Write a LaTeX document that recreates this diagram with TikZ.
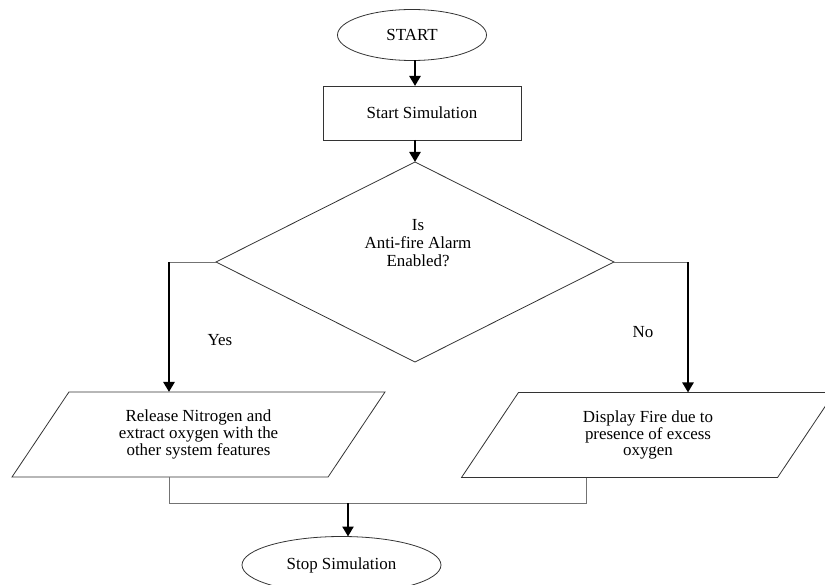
\documentclass[tikz,border=0pt]{standalone}
\usepackage{fontspec}
\setmainfont{Liberation Serif}
\usepackage{tikz}
\usetikzlibrary{arrows.meta, shapes.geometric}
\tikzset{
  basenode/.style={draw=black!80,line width=0.8bp,font=\fontsize{17}{17}\selectfont,align=center,inner sep=1pt,outer sep=0pt},
  termnode/.style={basenode,ellipse},
  procnode/.style={basenode,rectangle,minimum width=198bp,minimum height=54bp},
  decnode/.style={basenode,diamond,minimum width=398bp,minimum height=200bp},
  ionode/.style={basenode,trapezium,trapezium left angle=42,trapezium right angle=138,trapezium stretches body,minimum width=373bp,minimum height=85bp},
  txtnode/.style={font=\fontsize{17}{18}\selectfont,align=center,inner sep=0pt},
  flowarr/.style={-{Triangle[width=11bp,length=10bp]},line width=2.6bp,black},
  thinline/.style={line width=1bp,black!55},
}
\begin{document}
\begin{tikzpicture}[x=1bp,y=-1bp]
  \useasboundingbox (0,0) rectangle (825,585);
  \clip (0,0) rectangle (825,585);
  \node[termnode,minimum width=149bp,minimum height=51bp] (nStart) at (412,35) {START};
  \node[procnode] (nSim) at (422,113) {Start Simulation};
  \node[decnode] (nDec) at (415,262) {};
  \node[txtnode] (nDecTxt) at (418,243) {Is\\Anti-fire Alarm\\Enabled?};
  \node[ionode] (nRel) at (198.5,434.5) {Release Nitrogen and\\extract oxygen with the\\other system features};
  \node[ionode] (nDisp) at (648,435) {Display Fire due to\\presence of excess\\oxygen};
  \node[termnode,minimum width=199bp,minimum height=57bp] (nStop) at (341.5,565) {Stop Simulation};
  \node[txtnode] (nYes) at (220,340) {Yes};
  \node[txtnode] (nNo) at (643,332) {No};
  \coordinate (cYes) at (169,262);
  \coordinate (cNo) at (688,262);
  \coordinate (cJoinL) at (169,503);
  \coordinate (cJoinR) at (586,503);
  \coordinate (cMid) at (348,503);
  \draw[flowarr] (nStart.south -| nDec.north) -- (nSim.north -| nDec.north);
  \draw[flowarr] (nSim.south -| nDec.north) -- (nDec.north);
  \draw[thinline] (nDec.west) -- (cYes);
  \draw[thinline] (nDec.east) -- (cNo);
  \draw[flowarr] (cYes) -- (cYes |- nRel.north);
  \draw[flowarr] (cNo) -- (cNo |- nDisp.north);
  \draw[thinline] (nRel.south -| cJoinL) -- (cJoinL) -- (cJoinR) -- (nDisp.south -| cJoinR);
  \draw[flowarr] (cMid) -- (cMid |- nStop.north);
\end{tikzpicture}
\end{document}
